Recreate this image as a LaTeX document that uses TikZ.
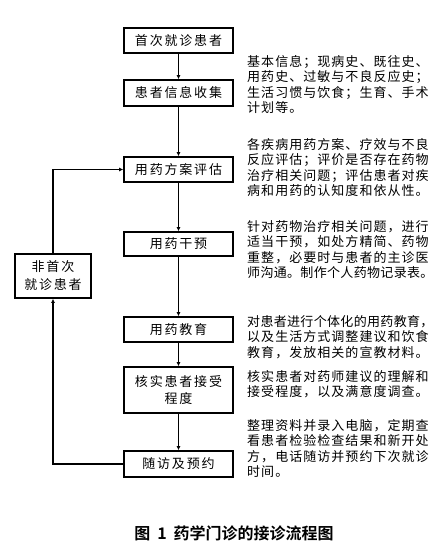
\documentclass[tikz,border=0pt]{standalone}
\usepackage{fontspec}
\newfontfamily\cjkbox[LetterSpace=14]{Noto Sans CJK SC}
\newfontfamily\cjktext[LetterSpace=8]{Noto Sans CJK SC}
\newfontfamily\cjktight[LetterSpace=2.5]{Noto Sans CJK SC}
\newfontfamily\cjkcap[BoldFont=* Bold]{Noto Sans CJK SC}
\usetikzlibrary{arrows.meta}
\begin{document}
\begin{tikzpicture}[x=1pt,y=-1pt,
  flowbox/.style={draw,line width=1.6pt,minimum width=109pt,inner sep=0pt,
    font=\fontsize{13}{17}\cjkbox,align=center},
  desc/.style={anchor=north west,inner sep=0pt,align=left,
    font=\fontsize{13}{15.2}\cjktext},
  conn/.style={line width=1.4pt,-{Latex[length=4pt,width=4pt]}}]
\useasboundingbox (0,0) rectangle (441,550);
\node[flowbox,minimum height=25pt] (b1) at (178.5,40.5) {首次就诊患者};
\node[flowbox,minimum height=26pt] (b2) at (178.5,93) {患者信息收集};
\node[flowbox,minimum height=25pt] (b3) at (178.5,169.5) {用药方案评估};
\node[flowbox,minimum height=24pt] (b4) at (178.5,244) {用药干预};
\node[flowbox,minimum height=25pt] (b5) at (178.5,329.5) {用药教育};
\node[flowbox,minimum height=46pt] (b6) at (178.5,390) {核实患者接受\\程度};
\node[flowbox,minimum height=26pt] (b7) at (178.5,464) {随访及预约};
\node[draw,line width=1.6pt,minimum width=76pt,minimum height=44pt,inner sep=0pt,
  font=\fontsize{13}{18}\cjkbox,align=center] (nf) at (53,276) {非首次\\就诊患者};
\draw[conn] (b1) -- (b2);
\draw[conn] (b2) -- (b3);
\draw[conn] (b3) -- (b4);
\draw[conn] (b4) -- (b5);
\draw[conn] (b5) -- (b6);
\draw[conn] (b6) -- (b7);
\draw[conn] (b7.west) -| (nf.south);
\draw[conn] (nf.north) |- (b3.west);
\node[desc] (t1) at (247,55.5) {基本信息；现病史、既往史、\\用药史、过敏与不良反应史；\\生活习惯与饮食；生育、手术\\计划等。};
\node[desc] (t2) at (247,138.5) {各疾病用药方案、疗效与不良\\反应评估；评价是否存在药物\\治疗相关问题；评估患者对疾\\病和用药的认知度和依从性。};
\node[desc] (t3) at (247,220.5) {针对药物治疗相关问题，进行\\适当干预，如处方精简、药物\\重整，必要时与患者的主诊医\\{\cjktight 师沟通。制作个人药物记录表。}};
\node[desc] (t4) at (247,315.5) {{\cjktight 对患者进行个体化的用药教育，}\\以及生活方式调整建议和饮食\\教育，发放相关的宣教材料。};
\node[desc] (t5) at (247,370.5) {核实患者对药师建议的理解和\\接受程度，以及满意度调查。};
\node[desc] (t6) at (247,419.5) {整理资料并录入电脑，定期查\\看患者检验检查结果和新开处\\方，电话随访并预约下次就诊\\时间。};
\node[font=\fontsize{16}{18}\cjkcap\bfseries] (cap) at (234,533) {图\hspace{7pt}1\hspace{7pt}药学门诊的接诊流程图};
\end{tikzpicture}
\end{document}
